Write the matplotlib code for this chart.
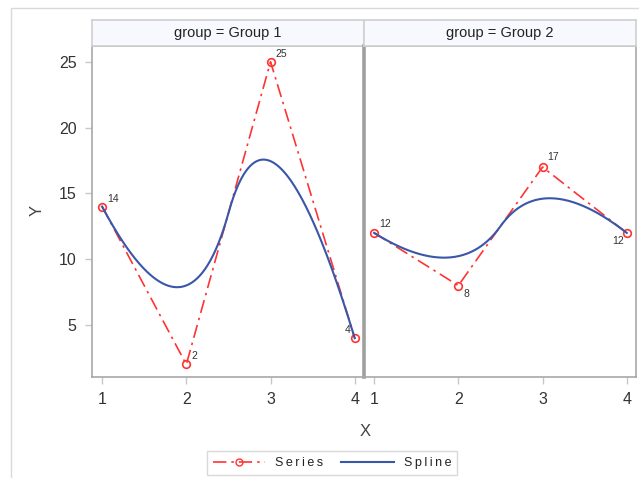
import numpy as np
import matplotlib
matplotlib.use("Agg")
import matplotlib.pyplot as plt
from matplotlib.lines import Line2D
from matplotlib.patches import Rectangle

plt.rcParams['font.family'] = ['Liberation Sans', 'DejaVu Sans']

# ---- data ----
groups = ["Group 1", "Group 2"]
x_vals = [1, 2, 3, 4]
y_group1 = [14, 2, 25, 4]
y_group2 = [12, 8, 17, 12]
series = [y_group1, y_group2]
x_ticks = [1, 2, 3, 4]
y_ticks = [5, 10, 15, 20, 25]

# label placement (offset px, ha, va) per point
label_pos = [
    [((5, 3), 'left', 'bottom'), ((5, 3), 'left', 'bottom'),
     ((5, 3), 'left', 'bottom'), ((-4, 3), 'right', 'bottom')],
    [((5, 4), 'left', 'bottom'), ((5, -3), 'left', 'top'),
     ((5, 5), 'left', 'bottom'), ((-3, -3), 'right', 'top')],
]

RED = '#FF3333'
BLUE = '#3A56A8'
GRAY = '#A8A8A8'


def bspline_quadratic(xs, ys, n=300):
    """Clamped quadratic B-spline using the data points as control points."""
    P = np.column_stack([xs, ys]).astype(float)
    k = 2
    m = len(P)
    inner = list(range(1, m - k))
    knots = np.array([0] * (k + 1) + inner + [m - k] * (k + 1), float)
    t = np.linspace(0, m - k, n)
    t[-1] -= 1e-9

    def N(i, p, tt):
        if p == 0:
            return np.where((knots[i] <= tt) & (tt < knots[i + 1]), 1.0, 0.0)
        a = 0.0
        d1 = knots[i + p] - knots[i]
        if d1 > 0:
            a = (tt - knots[i]) / d1 * N(i, p - 1, tt)
        b = 0.0
        d2 = knots[i + p + 1] - knots[i + 1]
        if d2 > 0:
            b = (knots[i + p + 1] - tt) / d2 * N(i + 1, p - 1, tt)
        return a + b

    out = np.zeros((n, 2))
    for i in range(m):
        out += N(i, k, t)[:, None] * P[i]
    return out[:, 0], out[:, 1]


fig = plt.figure(figsize=(6.39, 4.78), dpi=100)
W, H = 639, 478

def fx(px):
    return px / W

def fy(py):
    return 1 - py / H

# outer frame
fig.patches.append(Rectangle((fx(11), -0.1), 1.2, fy(8) + 0.1,
                             transform=fig.transFigure, fill=False,
                             edgecolor='#D9D9D9', linewidth=1.0))

panel_left = [92, 364]
panel_w = 272
top_px, bot_px = 46, 377

axes = []
for gi, g in enumerate(groups):
    ax = fig.add_axes([fx(panel_left[gi]), fy(bot_px), fx(panel_w), (bot_px - top_px) / H])
    axes.append(ax)
    ys = series[gi]
    sx, sy = bspline_quadratic(x_vals, ys)
    ax.plot(x_vals, ys, color=RED, linestyle=(0, (8, 3, 1.5, 3)), linewidth=1.2,
            marker='o', markersize=5.5, markerfacecolor='none',
            markeredgecolor=RED, markeredgewidth=1.2, zorder=3)
    ax.plot(sx, sy, color=BLUE, linewidth=1.5, zorder=4)
    for xi, yi, (off, ha, va) in zip(x_vals, ys, label_pos[gi]):
        ax.annotate(str(yi), (xi, yi), xytext=off, textcoords='offset pixels',
                    ha=ha, va=va, fontsize=7.5, color='#333333')
    ax.set_xlim(0.88, 4.11)
    ax.set_ylim(1.05, 26.2)
    ax.set_xticks(x_ticks)
    ax.set_xticklabels([str(v) for v in x_ticks])
    ax.set_yticks(y_ticks)
    ax.tick_params(axis='both', direction='out', length=5, width=1,
                   color='#C8C8C8', labelsize=11.5, labelcolor='#333333', pad=6)
    if gi == 1:
        ax.tick_params(axis='y', left=False, labelleft=False)
    for s in ax.spines.values():
        s.set_color(GRAY)
        s.set_linewidth(1.2)
    if gi == 1:
        ax.spines['left'].set_linewidth(2.6)
        ax.spines['left'].set_color('#A0A0A0')
    # header strip
    hax = fig.add_axes([fx(panel_left[gi]), fy(top_px), fx(panel_w), 26 / H])
    hax.set_facecolor('#F7F9FE')
    hax.set_xticks([]); hax.set_yticks([])
    for s in hax.spines.values():
        s.set_color('#D0D0D0')
        s.set_linewidth(1.2)
    hax.text(0.5, 0.5, f"group = {g}", ha='center', va='center',
             fontsize=10.5, color='#222222', transform=hax.transAxes)

fig.text(fx(365), fy(432), "X", ha='center', va='center', fontsize=12, color='#444444')
fig.text(fx(37), fy(210), "Y", ha='center', va='center', fontsize=12, color='#444444',
         rotation=90)

handles = [
    Line2D([], [], color=RED, linestyle=(0, (8, 3, 1.5, 3)), linewidth=1.2,
           marker='o', markersize=5, markerfacecolor='none', markeredgecolor=RED),
    Line2D([], [], color=BLUE, linewidth=1.5),
]
sp = '\u2009'
leg = fig.legend(handles, [sp.join("Series"), sp.join("Spline")], loc='center',
                 bbox_to_anchor=(fx(332), fy(463)), ncol=2, frameon=True,
                 fancybox=False, edgecolor='#D0D0D0', fontsize=9,
                 handlelength=4.2, columnspacing=1.4, handletextpad=0.8,
                 borderpad=0.45)
leg.get_frame().set_linewidth(1.0)
for t in leg.get_texts():
    t.set_color('#222222')

fig.savefig("out.png", dpi=100)
